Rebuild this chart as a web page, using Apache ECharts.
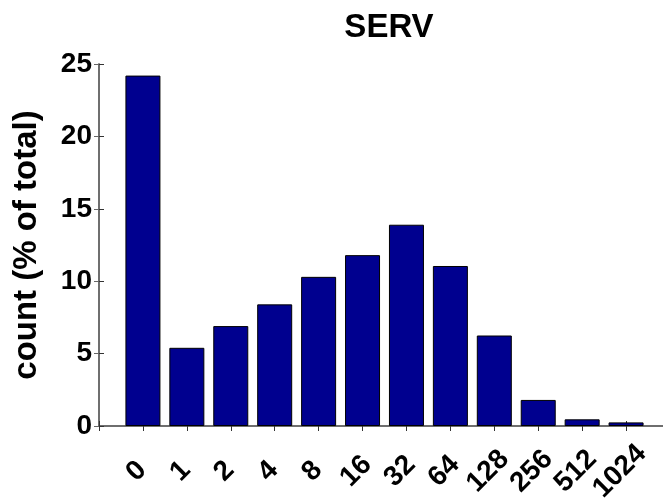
<!DOCTYPE html>
<html>
<head>
<meta charset="utf-8">
<script src="https://cdn.jsdelivr.net/npm/echarts@6/dist/echarts.min.js"></script>
<style>
html,body{margin:0;padding:0;background:#fff;}
#chart{width:663px;height:501px;}
</style>
</head>
<body>
<div id="chart"></div>
<script>
var titleText = 'SERV';
var yAxisName = 'count (% of total)';
var categories = ['0','1','2','4','8','16','32','64','128','256','512','1024'];
var values = [24.2, 5.4, 6.9, 8.4, 10.3, 11.8, 13.9, 11.05, 6.25, 1.8, 0.46, 0.25];
var yTicks = [0, 5, 10, 15, 20, 25];

var FONT = '"Liberation Sans", Arial, Helvetica, sans-serif';
var chart = echarts.init(document.getElementById('chart'), null, {renderer: 'canvas'});

var barData = values.map(function (v, i) { return [i + 1, v]; });

chart.setOption({
  animation: false,
  backgroundColor: '#ffffff',
  title: {
    text: titleText,
    left: 384,
    top: 6,
    textAlign: 'center',
    textStyle: {fontFamily: FONT, fontWeight: 'bold', fontSize: 33, color: '#000'}
  },
  grid: {left: 99, top: 64, width: 571, height: 362, containLabel: false, outerBoundsMode: 'none'},
  xAxis: [{
    type: 'value', min: 0, max: categories.length + 1, interval: 1,
    position: 'bottom',
    splitLine: {show: false},
    axisLine: {show: true, lineStyle: {color: '#666', width: 1.5}},
    axisTick: {show: true, inside: true, length: 5, lineStyle: {color: '#333'}},
    axisLabel: {
      show: true,
      rotate: 45,
      align: 'center',
      verticalAlign: 'middle',
      margin: 39,
      padding: [0, 18, 0, 0],
      fontFamily: FONT, fontWeight: 'bold', fontSize: 28, color: '#000',
      formatter: function (v) {
        var i = Math.round(v) - 1;
        return (i >= 0 && i < categories.length) ? categories[i] : '';
      }
    }
  }, {
    type: 'value', min: 0, max: categories.length + 1, interval: 1,
    position: 'top',
    splitLine: {show: false},
    axisLine: {show: true, lineStyle: {color: '#666', width: 1.5}},
    axisTick: {show: true, inside: true, length: 5, lineStyle: {color: '#333'}},
    axisLabel: {show: false}
  }],
  yAxis: [{
    type: 'value', min: yTicks[0], max: yTicks[yTicks.length - 1], interval: 5,
    position: 'left',
    name: yAxisName,
    nameLocation: 'middle',
    nameGap: 56,
    nameTextStyle: {fontFamily: FONT, fontWeight: 'bold', fontSize: 33, color: '#000'},
    splitLine: {show: false},
    axisLine: {show: true, lineStyle: {color: '#666', width: 1.5}},
    axisTick: {show: true, inside: true, length: 5, lineStyle: {color: '#333'}},
    axisLabel: {show: true, margin: 7, fontFamily: FONT, fontWeight: 'bold', fontSize: 28, color: '#000'}
  }, {
    type: 'value', min: yTicks[0], max: yTicks[yTicks.length - 1], interval: 5,
    position: 'right',
    splitLine: {show: false},
    axisLine: {show: true, lineStyle: {color: '#666', width: 1.5}},
    axisTick: {show: true, inside: true, length: 5},
    axisLabel: {show: false}
  }],
  series: [{
    type: 'bar',
    xAxisIndex: 0,
    yAxisIndex: 0,
    data: barData,
    barWidth: 35,
    itemStyle: {color: '#00008f', borderColor: '#000', borderWidth: 1}
  }]
});
</script>
</body>
</html>
